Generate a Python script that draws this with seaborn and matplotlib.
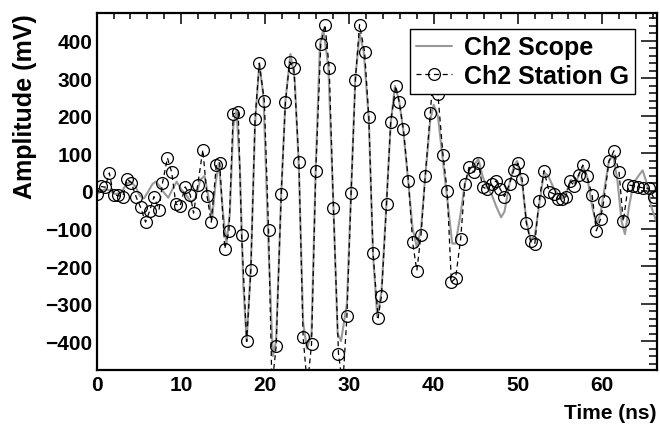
import matplotlib
matplotlib.use("Agg")
import matplotlib.pyplot as plt
from matplotlib.ticker import MultipleLocator
import pandas as pd
import seaborn as sns

# Station G samples (ns, mV)
station_t = [0.0, 0.5, 1.0, 1.5, 2.0, 2.5, 3.1, 3.6, 4.1, 4.7, 5.2, 5.8, 6.3, 6.8,
             7.4, 7.8, 8.4, 8.9, 9.4, 9.9, 10.5, 11.1, 11.5, 12.0, 12.6, 13.1, 13.6,
             14.2, 14.6, 15.2, 15.7, 16.2, 16.8, 17.2, 17.8, 18.3, 18.8, 19.3, 19.9,
             20.4, 20.8, 21.3, 21.9, 22.4, 22.9, 23.4, 24.0, 24.5, 25.0, 25.5, 26.0,
             26.6, 27.1, 27.6, 28.1, 28.7, 29.2, 29.7, 30.2, 30.7, 31.2, 31.8, 32.3,
             32.8, 33.4, 33.8, 34.4, 34.9, 35.5, 35.9, 36.4, 37.0, 37.5, 38.0, 38.5,
             39.0, 39.6, 40.0, 40.5, 41.1, 41.6, 42.1, 42.6, 43.2, 43.7, 44.2, 44.8,
             45.3, 45.8, 46.3, 46.9, 47.4, 47.9, 48.4, 49.0, 49.5, 50.0, 50.5, 51.0,
             51.5, 52.0, 52.5, 53.1, 53.7, 54.3, 54.8, 55.2, 55.7, 56.2, 56.7, 57.2,
             57.7, 58.2, 58.8, 59.3, 59.8, 60.2, 60.8, 61.4, 62.0, 62.5, 63.1, 63.7,
             64.3, 64.9, 65.5, 66.1]
station_mv = [-8, 12, 10, 48, -10, -12, -15, 32, 22, -17, -43, -83, -52, -15,
              -50, 20, 88, 50, -35, -40, 11, -10, -59, 17, 110, -14, -83,
              70, 75, -154, -107, 205, 211, -116, -401, -210, 193, 340, 239,
              -103, -520, -414, -8, 236, 344, 327, 78, -389, -520, -409, 52,
              391, 443, 329, -46, -434, -520, -334, -5, 295, 443, 371, 196,
              -166, -338, -280, -35, 184, 280, 238, 165, 27, -137, -212, -116,
              39, 208, 330, 258, 97, 1, -243, -232, -128, 19, 63, 50,
              75, 11, 5, 19, 27, 5, -15, 19, 56, 74, 32, -85,
              -134, -141, -27, 54, -2, -8, -21, -21, -15, 27, 13, 43,
              69, 39, -10, -106, -75, -26, 79, 107, 50, -81, 16, 14,
              11, 8, 7, -17]

# Scope trace (ns, mV)
scope_t = [0.0, 0.5, 1.0, 1.5, 2.2, 2.9, 3.5, 4.0, 4.6, 5.1, 5.6, 6.1, 6.6, 7.0,
           7.5, 8.0, 8.5, 9.0, 9.5, 10.0, 10.6, 11.2, 11.7, 12.3, 12.8, 13.3, 13.7,
           14.1, 14.5, 15.0, 15.4, 15.8, 16.2, 16.6, 17.0, 17.4, 17.8, 18.3, 18.8,
           19.3, 19.8, 20.4, 20.9, 21.3, 21.9, 22.4, 23.0, 23.5, 24.0, 24.5, 24.95,
           25.5, 26.0, 26.5, 26.9, 27.5, 28.1, 28.6, 29.0, 29.7, 30.2, 30.7, 31.2,
           31.7, 32.3, 32.8, 33.3, 33.8, 34.4, 34.9, 35.4, 35.9, 36.4, 37.0, 37.5,
           38.0, 38.5, 39.0, 39.6, 40.0, 40.5, 41.1, 41.6, 42.2, 42.6, 43.2, 43.7,
           44.3, 44.8, 45.3, 45.8, 46.3, 46.9, 47.4, 48.0, 48.4, 49.0, 49.5, 49.9,
           50.5, 51.0, 51.5, 52.0, 52.5, 53.1, 53.6, 54.2, 54.8, 55.3, 55.8, 56.3,
           56.8, 57.2, 57.7, 58.2, 58.8, 59.3, 59.8, 60.3, 60.8, 61.3, 61.8, 62.3,
           62.7, 63.2, 63.7, 64.3, 64.8, 65.3, 65.8, 66.4]
scope_mv = [-8, -2, 5, 2, -8, -5, 18, 25, 12, -12, -20, -2, 18, 25,
            12, -5, -18, 5, 25, 5, -10, -30, -20, 30, 40, -20, -75,
            20, 75, -60, -140, -60, 170, 215, 60, -250, -400, -200, 180,
            340, 250, -150, -440, -400, -10, 240, 365, 300, 60, -350, -420,
            -380, 60, 390, 430, 330, -40, -380, -400, -300, 0, 300, 420,
            370, 190, -170, -335, -270, -30, 180, 280, 240, 160, 20, -100,
            -150, -100, 40, 190, 230, 200, 80, -20, -140, -140, -60, 20,
            60, 70, 85, 40, 10, -10, -40, -70, -55, 20, 65, 80,
            20, -80, -130, -120, -40, 50, 40, 10, -10, -20, 0, 30,
            20, 40, 65, 40, -40, -90, -60, 10, 80, 95, 30, -80,
            -115, -40, 20, 40, 55, 20, -40, -80]

x_ticks = [0, 10, 20, 30, 40, 50, 60]
y_ticks = [-400, -300, -200, -100, 0, 100, 200, 300, 400]

scope = pd.DataFrame({"Time (ns)": scope_t, "Amplitude (mV)": scope_mv})
station = pd.DataFrame({"Time (ns)": station_t, "Amplitude (mV)": station_mv})

sns.set_theme(style="white")
plt.rcParams["font.family"] = ["Liberation Sans", "DejaVu Sans"]
plt.rcParams["font.weight"] = "bold"
plt.rcParams["axes.labelweight"] = "bold"
plt.rcParams["text.color"] = "black"
plt.rcParams["axes.labelcolor"] = "black"
plt.rcParams["xtick.color"] = "black"
plt.rcParams["ytick.color"] = "black"

fig = plt.figure(figsize=(6.6, 4.27), dpi=100)
ax = fig.add_axes([0.1465, 0.132, 0.8485, 0.835])

sns.lineplot(data=scope, x="Time (ns)", y="Amplitude (mV)", ax=ax,
             estimator=None, errorbar=None, sort=False,
             color="#999999", linewidth=1.5, label="Ch2 Scope", zorder=2)
sns.lineplot(data=station, x="Time (ns)", y="Amplitude (mV)", ax=ax,
             estimator=None, errorbar=None, sort=False,
             color="black", linewidth=0.9, linestyle=(0, (4, 3)),
             marker="o", markersize=8.5, markerfacecolor="none",
             markeredgecolor="black", markeredgewidth=0.9,
             label="Ch2 Station G", zorder=3)

ax.set_xlim(0, 66.47)
ax.set_ylim(-476, 474)
ax.set_xticks(x_ticks)
ax.set_yticks(y_ticks)
ax.xaxis.set_minor_locator(MultipleLocator(2))
ax.yaxis.set_minor_locator(MultipleLocator(20))

ax.tick_params(which="both", direction="in", top=True, right=True,
               labelsize=15, width=1.1, colors="black", labelcolor="black")
ax.tick_params(axis="x", which="major", length=8, pad=4)
ax.tick_params(axis="x", which="minor", length=4)
ax.tick_params(axis="y", which="major", length=11.5, pad=3)
ax.tick_params(axis="y", which="minor", length=5.8)
for lab in ax.get_xticklabels() + ax.get_yticklabels():
    lab.set_fontweight("bold")

for sp in ax.spines.values():
    sp.set_visible(True)
    sp.set_linewidth(1.6)
    sp.set_color("black")

ax.set_xlabel("Time (ns)", loc="right", fontsize=15, fontweight="bold",
              labelpad=6, color="black")
ax.set_ylabel("Amplitude (mV)", loc="top", fontsize=18, fontweight="bold",
              labelpad=6, color="black")

leg = ax.legend(loc="upper right", bbox_to_anchor=(0.961, 0.955), borderaxespad=0,
                fancybox=False, framealpha=1, edgecolor="black",
                prop={"size": 18, "weight": "bold"}, handlelength=1.45,
                handletextpad=0.45, borderpad=0.25, labelspacing=0.18)
leg.get_frame().set_linewidth(1.0)
for t in leg.get_texts():
    t.set_color("black")

fig.savefig("out.png", dpi=100)
